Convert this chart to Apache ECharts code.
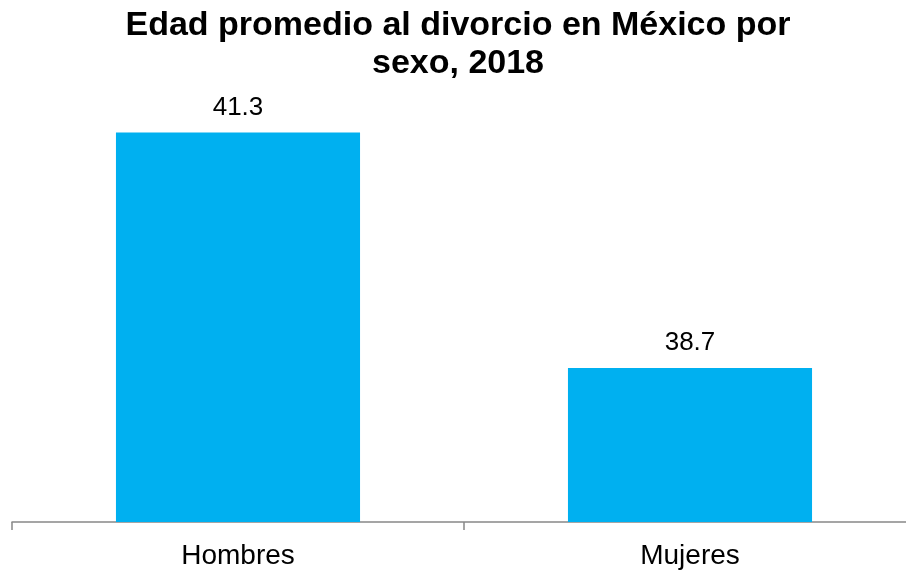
<!DOCTYPE html>
<html>
<head>
<meta charset="utf-8">
<script src="https://cdn.jsdelivr.net/npm/echarts@6/dist/echarts.min.js"></script>
<style>html,body{margin:0;padding:0;background:#fff;overflow:hidden}#c{width:916px;height:575px}</style>
</head>
<body>
<div id="c"></div>
<script>
const categories = ["Hombres", "Mujeres"];
const values = [41.3, 38.7];
const titleText = "Edad promedio al divorcio en México por\nsexo, 2018";

const chart = echarts.init(document.getElementById('c'), null, {renderer: 'canvas'});
chart.setOption({
  animation: false,
  backgroundColor: '#ffffff',
  title: {
    text: titleText,
    left: 'center',
    top: 2,
    textStyle: {
      fontFamily: 'Liberation Sans, Arial, sans-serif',
      fontSize: 34,
      fontWeight: 'bold',
      color: '#000',
      lineHeight: 38
    }
  },
  grid: { left: 12, right: 0, top: 69, bottom: 53, containLabel: false },
  xAxis: {
    type: 'category',
    data: categories,
    axisLine: { lineStyle: { color: '#888', width: 1.5 } },
    axisTick: { show: true, length: 8, lineStyle: { color: '#888', width: 1.5 } },
    axisLabel: { fontFamily: 'Liberation Sans, Arial, sans-serif', fontSize: 28, color: '#000', margin: 20 }
  },
  yAxis: {
    type: 'value',
    min: 37,
    max: 42,
    show: false,
    splitLine: { show: false }
  },
  series: [{
    type: 'bar',
    data: values,
    barWidth: '54%',
    itemStyle: { color: '#00B0F0' },
    label: {
      show: true,
      position: 'top',
      distance: 12,
      fontFamily: 'Liberation Sans, Arial, sans-serif',
      fontSize: 26,
      color: '#000',
      formatter: p => p.value.toFixed(1)
    }
  }]
});
</script>
</body>
</html>
